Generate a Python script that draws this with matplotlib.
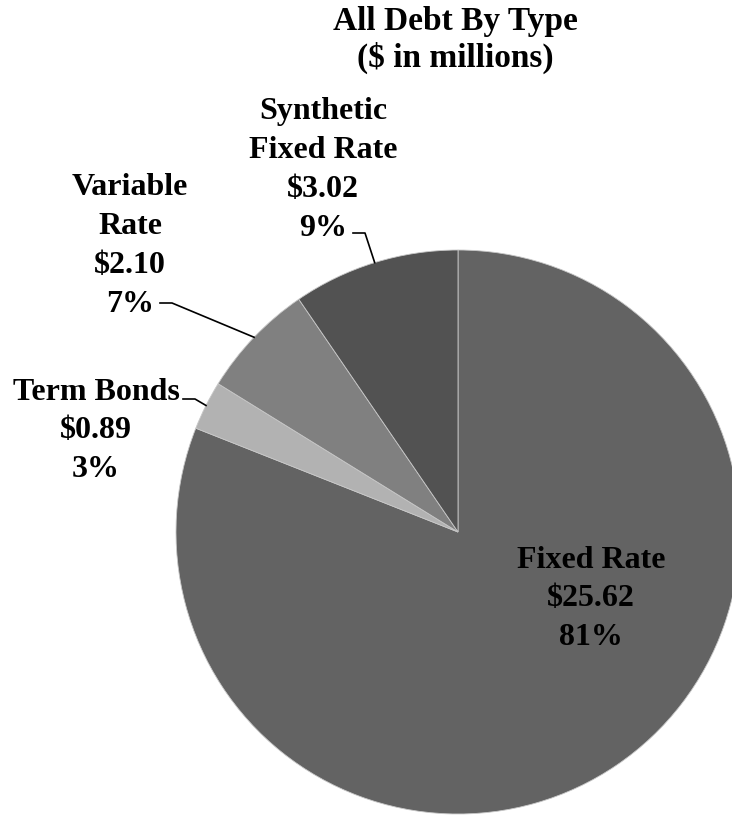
import numpy as np
import matplotlib.pyplot as plt

plt.rcParams['font.family'] = ['Liberation Serif', 'DejaVu Serif']
plt.rcParams['font.weight'] = 'bold'

# Deuda por tipo, millones de dolares
tipos = ['Fixed Rate', 'Term Bonds', 'Variable\nRate', 'Synthetic\nFixed Rate']
montos = [25.62, 0.89, 2.10, 3.02]
porcentajes = [81, 3, 7, 9]
colores = ['#636363', '#b2b2b2', '#808080', '#525252']

fig = plt.figure(figsize=(7.32, 8.15), dpi=100)
ax = fig.add_axes([0, 0, 1, 1])

cx, cy, r = 458, 283, 282
wedges, _ = ax.pie(montos, colors=colores, startangle=90, counterclock=False,
                   center=(cx, cy), radius=r, frame=True,
                   wedgeprops=dict(edgecolor='#c8c8c8', linewidth=0.6))
ax.set_xlim(0, 732)
ax.set_ylim(0, 815)
ax.set_aspect('equal')
ax.axis('off')

textos = ['{}\n${:.2f}\n{}%'.format(t, m, p) for t, m, p in zip(tipos, montos, porcentajes)]

# posicion de cada etiqueta (centro del bloque) y codo de la linea guia
pos = [(591, 216), (96, 384), (130, 569), (323, 645)]
codo = [None, (183, 416), (160, 512), (353, 582)]

for w, txt, p, c in zip(wedges, textos, pos, codo):
    ax.text(p[0], p[1], txt, ha='center', va='center', fontsize=23,
            fontweight='bold', linespacing=1.44)
    if c is None:
        continue
    ang = np.deg2rad((w.theta1 + w.theta2) / 2)
    px, py = cx + r * np.cos(ang), cy + r * np.sin(ang)
    ax.plot([c[0], c[0] + 12, px], [c[1], c[1], py], color='black', lw=1.2)

ax.text(455, 775, 'All Debt By Type\n($ in millions)', ha='center', va='center',
        fontsize=24, fontweight='bold', linespacing=1.17)

plt.savefig('out.png', dpi=100)
